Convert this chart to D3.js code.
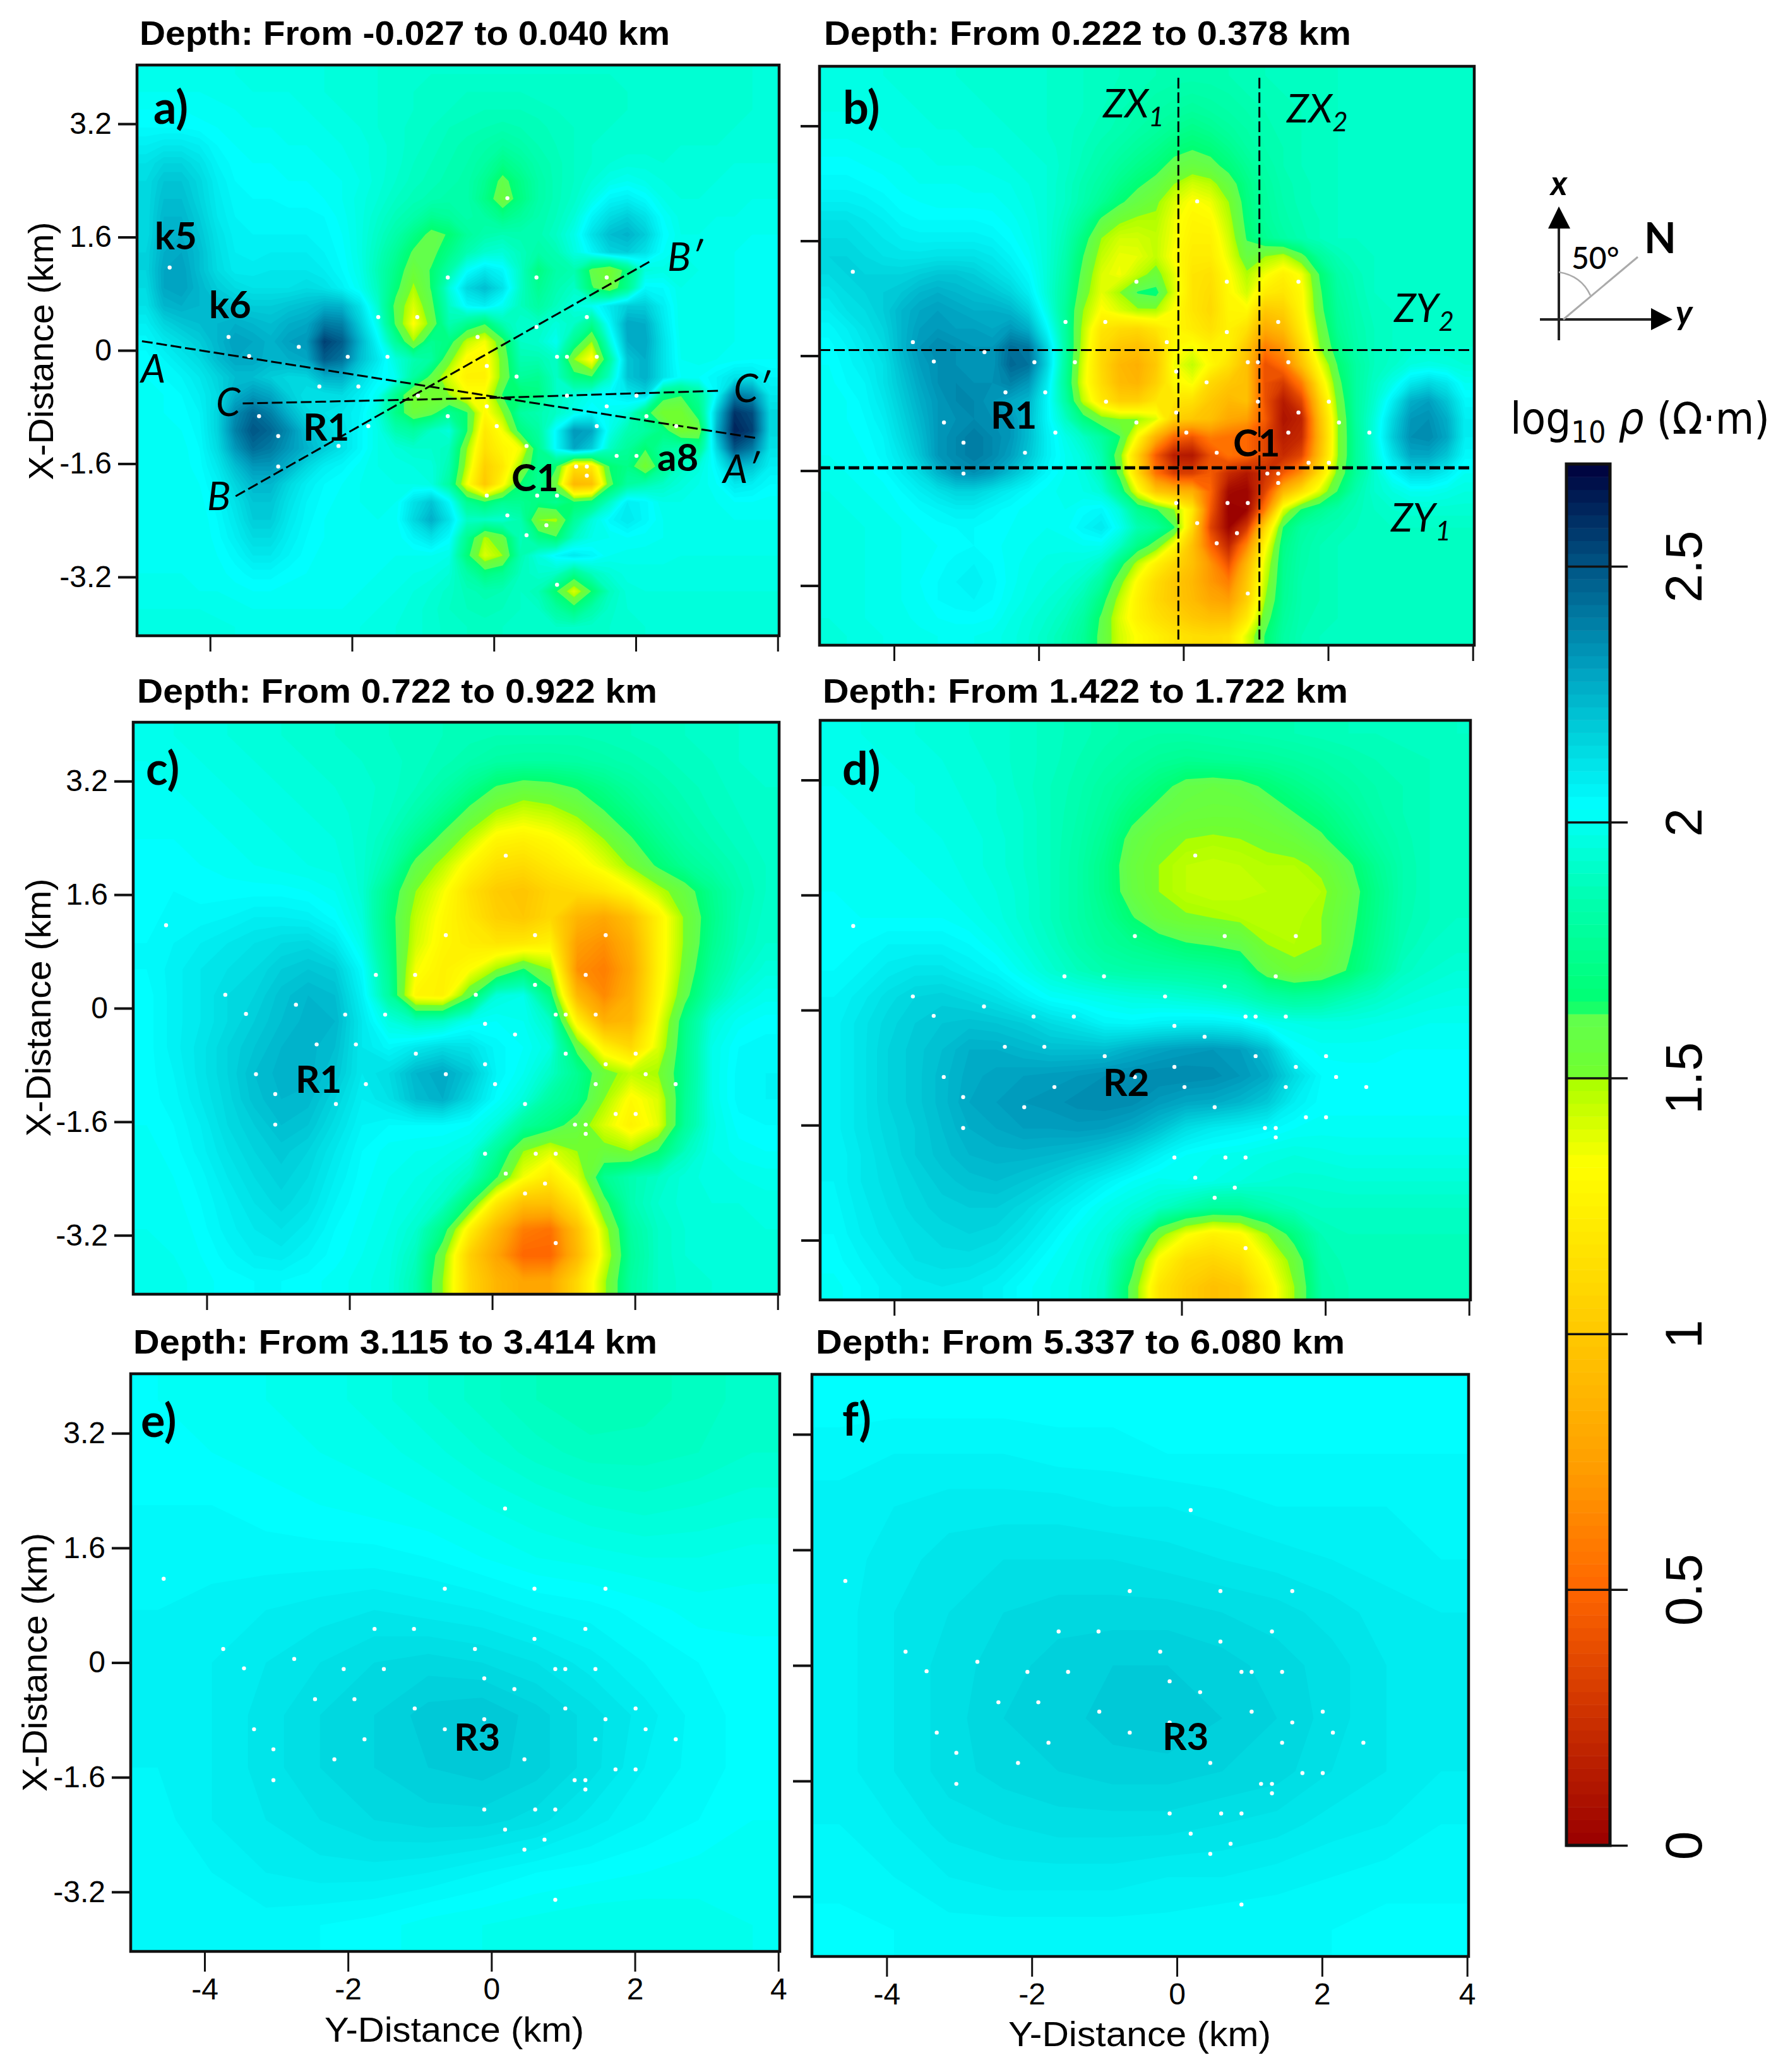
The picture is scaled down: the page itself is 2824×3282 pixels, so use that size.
<!DOCTYPE html>
<html>
<head>
<meta charset="utf-8">
<script src="https://cdn.jsdelivr.net/npm/d3@7"></script>
<style>
body { margin: 0; background: #fff; }
text { font-family: "Liberation Sans", Arial, sans-serif; fill: #000; }
.lab { font-family: Lato, sans-serif; font-weight: 700; font-size: 60px; }
.name { font-family: Lato, sans-serif; font-weight: 700; font-size: 72px; }
.ital { font-family: Lato, sans-serif; font-style: italic; font-size: 62px; }
</style>
</head>
<body>
<div id="plotDiv"></div>
<script>
// log10 resistivity x 100. rows run from +x to -x, columns from -y to +y
var gridA = [
[198,198,198,198,198,198,197,197,197,196,196,195,195,194,193,192,192,192,192,192,192,192,192,192,192,192,192,192,192,192,192,192,193,193,194,194],
[200,200,200,200,199,199,198,198,198,197,196,195,195,194,193,192,191,191,190,190,190,190,191,191,191,191,191,192,192,192,192,192,193,193,194,194],
[202,202,202,201,201,200,199,199,198,198,197,196,195,194,193,192,191,190,189,188,188,188,189,190,191,191,191,192,192,192,192,193,193,193,194,194],
[204,204,204,203,202,201,200,200,199,199,198,197,196,194,193,191,190,188,187,186,185,186,187,189,190,191,192,192,192,192,193,193,193,194,194,195],
[208,210,210,208,204,202,201,201,200,200,199,198,197,195,193,191,189,187,185,183,180,183,186,188,190,192,193,193,193,193,194,194,194,195,195,195],
[212,216,216,212,206,203,202,202,201,201,200,199,197,195,193,190,188,186,184,180,172,178,184,187,190,192,194,195,195,194,194,195,195,196,196,196],
[214,220,220,215,208,204,203,203,202,202,201,200,198,195,192,189,187,185,183,175,160,172,182,187,190,194,198,200,198,196,195,195,196,196,197,197],
[214,222,222,216,209,205,204,204,203,203,202,200,197,194,190,187,185,183,183,172,155,170,182,187,191,198,206,208,204,198,196,196,197,197,198,198],
[214,224,224,218,210,206,205,205,205,205,204,201,197,192,187,183,175,178,183,180,172,178,184,188,194,206,214,218,212,202,197,197,198,198,199,199],
[214,225,226,220,212,207,206,206,206,206,205,202,197,190,183,172,160,165,178,184,186,185,185,190,198,212,222,225,218,204,198,198,199,199,200,200],
[216,226,228,222,213,208,207,208,208,208,206,203,197,188,177,162,160,172,185,192,194,188,182,186,196,206,216,218,212,202,198,198,199,200,200,200],
[216,228,230,222,214,209,209,210,210,210,208,204,198,186,172,155,165,182,202,210,205,190,170,182,185,160,150,170,195,197,197,198,199,200,200,201],
[214,228,230,224,218,214,212,212,212,214,212,207,200,188,168,148,165,195,215,222,212,190,175,185,190,165,155,175,205,204,198,198,199,200,200,201],
[212,224,226,224,222,220,218,218,220,222,226,225,212,192,160,140,160,190,205,208,200,188,180,188,196,200,210,218,218,208,198,198,199,200,200,200],
[208,216,220,222,224,226,224,222,226,228,240,238,218,198,162,132,155,185,175,165,185,192,190,195,190,175,205,228,226,210,198,198,199,200,200,200],
[205,210,214,218,224,230,228,225,230,232,255,248,225,205,178,150,175,170,145,135,160,190,192,200,175,150,195,226,228,212,199,198,199,200,200,200],
[203,206,210,214,222,228,228,224,226,228,248,242,222,210,195,185,180,155,130,128,155,185,185,190,150,130,180,220,226,212,200,199,200,201,202,202],
[202,204,206,210,216,222,222,218,215,216,226,226,214,205,200,180,160,140,125,125,155,178,175,190,170,165,190,220,226,212,202,202,206,212,212,206],
[201,202,204,208,214,226,232,228,218,212,212,214,208,200,175,150,150,150,135,135,165,165,170,190,195,200,205,210,215,170,165,178,205,240,235,210],
[200,202,203,206,216,235,245,238,225,215,212,210,206,195,172,155,160,175,165,130,150,180,185,190,198,205,200,195,170,150,150,170,220,258,252,215],
[200,201,202,205,216,238,250,245,235,222,216,212,205,198,185,180,190,195,165,120,135,170,180,205,232,228,198,185,180,170,150,155,225,262,255,215],
[200,200,201,204,214,232,244,240,232,225,218,212,205,198,195,192,192,188,150,115,128,135,175,205,228,218,190,178,165,180,185,175,215,250,240,212],
[200,200,201,203,210,222,232,232,225,215,208,205,201,198,197,196,195,185,145,105,120,150,175,165,115,120,165,172,150,175,190,195,205,225,220,208],
[200,200,200,202,207,216,224,224,215,208,204,202,200,199,198,198,196,180,135,100,130,165,175,155,90,95,160,180,185,190,195,198,202,210,208,204],
[200,200,200,201,205,212,220,220,212,206,203,201,200,199,200,212,220,205,175,165,175,175,170,175,165,170,190,208,205,198,198,198,200,202,202,201],
[200,200,200,200,204,210,218,218,210,205,202,201,200,200,201,215,226,212,190,190,192,185,150,148,178,195,205,210,205,200,198,198,199,200,200,200],
[200,200,200,200,203,208,214,214,208,204,202,201,200,200,200,206,212,204,175,148,158,188,172,165,190,198,200,202,201,200,199,199,199,199,199,199],
[200,200,200,200,202,205,210,210,206,203,201,200,200,200,200,200,200,198,168,140,150,185,196,205,210,206,200,199,199,199,198,198,198,198,198,198],
[200,200,200,200,201,203,205,205,203,202,201,200,200,200,199,198,197,194,182,170,175,188,192,190,175,188,194,197,197,197,197,197,197,197,197,197],
[199,199,199,200,200,201,202,202,201,201,200,200,200,199,198,196,194,191,187,185,186,190,186,165,140,165,188,195,196,196,196,196,196,196,196,196],
[198,198,198,198,199,199,200,200,200,200,200,200,199,198,197,195,193,190,188,187,188,190,190,180,170,183,191,194,195,195,195,195,195,195,195,195],
[196,196,196,197,197,198,198,199,199,199,199,199,198,197,196,195,193,191,190,189,190,191,191,190,190,191,192,193,194,194,194,194,194,194,194,194]
];
var gridB = [
[197,197,197,196,195,195,194,194,193,193,192,192,192,191,190,189,188,187,186,185,185,185,186,187,188,188,189,189,190,190,190,190,190,190,190,190],
[197,197,197,196,196,195,195,194,194,193,193,192,192,191,190,189,187,186,184,183,182,183,184,186,187,188,188,189,190,190,190,190,190,190,190,190],
[198,198,198,197,196,196,195,195,194,194,193,193,192,191,190,188,186,184,182,180,178,180,182,184,186,187,188,189,190,190,190,190,190,190,190,190],
[199,199,199,198,197,197,196,196,195,195,194,193,192,191,189,187,185,182,179,175,172,175,179,182,185,187,188,189,190,190,190,190,190,190,190,190],
[201,201,200,199,198,198,197,197,196,196,195,194,193,191,188,185,182,178,174,168,165,168,174,180,184,186,188,189,190,190,190,190,190,190,190,190],
[203,203,202,201,200,199,198,198,198,197,196,195,194,191,187,183,178,173,168,160,157,160,168,176,182,186,188,189,190,190,190,190,190,190,190,190],
[205,205,204,203,201,200,200,200,199,199,198,196,194,190,185,180,173,166,160,150,142,146,158,172,180,185,187,189,190,190,190,190,190,190,190,190],
[208,208,207,205,203,202,201,201,201,201,199,197,194,190,184,176,166,158,152,140,132,136,150,170,179,184,187,189,190,190,190,190,190,190,190,190],
[212,212,210,208,205,204,204,204,204,203,201,198,194,188,178,162,152,148,148,136,128,130,146,168,178,183,186,188,190,190,190,190,190,190,190,190],
[214,214,212,210,208,207,207,207,207,206,203,199,194,186,170,150,142,142,145,135,125,125,142,165,175,181,185,188,190,190,190,190,190,190,190,190],
[216,216,214,212,211,211,212,212,212,210,206,201,194,184,164,145,137,138,145,132,122,122,138,158,150,145,160,178,186,189,190,190,190,190,190,190],
[214,216,216,216,216,218,220,220,218,214,210,204,194,182,160,140,135,145,155,138,118,115,132,148,135,125,135,165,182,187,190,190,190,190,190,190],
[211,214,216,218,220,224,226,224,222,220,216,208,194,180,156,138,150,165,168,140,118,112,130,142,122,118,130,162,180,186,190,190,190,190,190,190],
[208,212,214,218,224,228,230,228,226,226,224,216,198,178,150,132,140,148,148,132,118,110,128,130,100,105,128,160,178,185,189,190,190,190,190,190],
[205,208,212,216,224,230,232,230,230,228,232,226,205,180,146,118,112,110,118,128,122,115,125,115,82,92,122,155,176,184,188,190,191,191,191,191],
[203,206,210,214,224,232,236,234,232,232,243,240,215,182,144,112,100,95,105,130,135,125,125,100,60,72,110,150,172,183,188,190,192,192,192,192],
[202,205,208,212,222,230,234,234,232,232,245,242,216,180,140,110,90,85,100,135,145,130,115,95,40,55,95,135,165,180,188,191,196,197,196,194],
[201,204,206,212,220,228,234,236,234,234,238,232,210,178,138,112,92,88,105,130,135,110,100,95,40,30,60,120,160,180,190,198,210,215,210,200],
[200,202,205,210,218,226,232,236,236,232,228,224,206,182,145,120,105,105,118,118,115,100,90,95,40,14,35,105,155,180,192,208,226,230,220,205],
[200,202,204,208,216,224,232,234,236,234,232,222,206,190,170,155,150,150,140,105,100,95,80,75,45,10,18,95,150,180,195,215,232,234,226,208],
[200,201,203,206,214,222,232,236,240,236,232,222,208,198,190,180,165,130,85,50,42,60,55,50,35,15,22,90,150,178,196,218,234,236,228,208],
[200,201,202,205,211,220,232,236,240,236,230,220,208,200,195,185,155,105,45,15,12,40,55,50,35,22,35,95,150,178,194,212,228,228,220,205],
[199,200,201,203,208,214,224,232,234,230,222,214,205,200,197,188,160,110,55,32,32,45,22,12,25,45,70,115,155,178,192,204,214,214,208,200],
[198,199,200,201,204,208,212,216,216,212,208,204,201,199,198,194,175,135,100,90,85,50,5,2,35,90,115,140,165,184,192,196,200,200,198,196],
[197,198,199,200,202,204,206,208,208,205,203,201,200,200,203,205,195,175,165,150,120,45,0,2,60,140,165,175,182,187,190,192,193,193,193,193],
[196,197,198,199,200,202,203,204,204,203,202,201,200,201,206,210,200,185,178,165,110,35,2,30,110,165,180,184,186,188,189,190,190,190,190,190],
[196,197,198,199,200,201,202,203,204,203,201,200,199,199,200,200,190,172,158,130,95,50,20,65,130,172,182,186,188,188,189,189,189,189,189,189],
[196,197,198,199,200,201,203,205,206,204,201,199,197,196,195,190,170,145,125,110,95,70,40,90,140,174,183,186,188,188,188,188,188,188,188,188],
[196,197,198,199,200,202,204,206,207,205,201,198,196,194,190,180,155,130,112,100,90,72,60,100,145,175,184,186,188,188,188,188,188,188,188,188],
[196,197,198,199,200,201,204,205,206,204,200,197,194,191,185,170,145,125,110,100,92,80,75,105,150,176,184,186,188,188,188,188,188,188,188,188],
[196,197,198,199,199,201,202,203,203,202,198,195,192,188,180,162,140,125,115,108,100,95,95,120,158,178,185,187,188,188,188,188,188,188,188,188],
[195,196,197,198,198,199,200,200,200,199,197,194,190,185,177,160,142,132,125,118,114,112,115,140,165,180,186,188,188,188,188,188,188,188,188,188]
];
var gridC = [
[199,198,197,196,195,194,193,192,191,190,189,188,187,186,186,186,186,187,188,189,190,191,192,193],
[200,199,198,197,196,195,194,193,192,191,189,187,184,181,180,180,181,183,185,187,189,190,192,193],
[200,200,199,198,197,196,195,194,193,191,188,183,174,163,158,160,165,172,179,184,187,189,191,192],
[201,201,200,199,198,197,196,195,193,190,184,174,160,148,142,145,152,163,172,180,185,188,190,191],
[202,202,201,200,199,198,197,196,193,187,175,160,145,128,125,130,138,150,163,174,182,186,189,191],
[203,203,202,201,200,199,198,197,193,183,160,146,128,115,112,120,128,138,152,166,176,182,187,190],
[203,204,203,203,203,203,202,200,193,173,150,135,115,102,98,108,112,118,130,145,158,174,185,190],
[203,205,205,206,208,208,207,203,195,170,145,130,118,105,100,110,88,80,95,125,152,172,186,191],
[204,206,208,210,212,214,215,210,198,172,142,128,122,118,120,125,75,68,85,125,152,174,187,192],
[204,207,210,212,214,218,220,218,204,176,135,125,132,150,165,150,68,60,80,125,155,178,190,195],
[203,207,210,214,216,221,224,222,207,180,128,125,160,195,198,170,90,65,85,128,160,184,195,199],
[203,207,210,214,218,222,225,224,210,196,188,190,200,202,200,190,125,85,90,135,172,195,201,203],
[203,207,211,216,220,224,225,222,210,205,210,214,212,205,202,196,160,125,110,140,174,198,204,205],
[203,206,211,216,222,225,225,220,210,214,224,228,220,206,200,190,175,155,145,150,174,198,205,206],
[203,205,210,215,221,224,223,216,208,212,222,226,215,203,195,180,172,150,130,140,176,198,205,206],
[202,204,208,214,218,222,220,213,206,204,204,204,202,195,178,170,158,140,125,138,178,197,203,204],
[201,203,207,212,216,219,216,210,204,201,200,199,196,178,150,140,150,155,150,165,188,198,201,202],
[200,202,205,210,214,217,214,208,203,200,198,195,188,165,135,120,140,175,185,190,195,197,198,199],
[200,201,204,208,212,215,212,206,202,199,196,190,165,120,95,95,120,160,185,192,195,196,196,197],
[200,200,203,207,210,212,209,204,201,198,192,172,125,90,60,55,95,145,180,190,194,195,195,196],
[199,200,202,205,208,209,206,203,200,197,188,155,105,78,50,50,90,140,178,190,194,195,195,195],
[198,199,201,203,204,204,203,201,199,196,185,150,108,88,78,80,110,148,180,190,193,194,194,194]
];
var gridD = [
[198,198,197,196,195,194,193,191,189,187,185,183,182,182,183,184,185,186,187,188,188,189,189,190],
[199,199,198,197,196,195,193,191,189,186,183,180,177,175,176,177,178,180,182,184,186,187,188,189],
[200,199,199,198,197,195,194,191,188,185,180,175,168,160,158,160,166,172,177,181,184,186,188,189],
[200,200,199,198,197,196,194,192,188,184,178,168,160,156,155,155,158,164,170,177,183,186,188,189],
[201,200,200,199,198,197,195,192,188,183,175,160,153,150,149,150,152,155,162,172,180,185,188,189],
[201,201,200,200,199,197,195,192,188,182,172,157,150,146,145,146,148,148,152,162,175,184,188,189],
[202,201,201,200,200,198,196,193,188,182,172,158,150,146,144,145,146,146,148,158,172,184,188,189],
[202,202,202,202,202,200,197,193,188,182,175,165,155,151,150,148,146,147,150,160,173,185,188,190],
[203,204,206,206,206,204,200,195,190,184,178,174,170,165,163,160,150,148,150,162,175,186,190,191],
[204,206,209,211,211,208,205,199,193,188,184,182,181,180,178,175,158,152,155,165,178,189,192,194],
[206,209,213,216,217,215,212,207,202,200,198,196,195,193,191,188,182,178,180,186,190,194,196,197],
[207,211,215,218,220,221,220,218,214,211,206,205,207,208,208,206,200,198,197,197,198,199,200,200],
[207,211,216,219,222,226,226,224,222,222,222,226,229,231,232,230,222,204,201,201,201,202,202,202],
[207,211,216,219,223,227,229,230,231,232,234,235,236,236,235,232,227,214,204,203,203,203,203,203],
[207,211,216,219,223,228,230,232,233,235,236,235,231,228,227,224,219,208,203,203,203,203,203,203],
[207,211,215,218,222,226,228,230,230,231,230,227,221,213,209,207,205,202,201,201,201,201,201,201],
[206,210,214,218,221,224,225,225,224,222,219,214,207,202,200,199,197,196,197,198,198,198,198,198],
[206,210,213,216,219,221,222,220,217,212,207,202,199,200,198,196,194,193,193,194,194,194,194,194],
[205,209,212,215,217,218,218,215,210,205,199,195,190,184,178,178,184,188,190,190,190,190,190,190],
[204,208,211,213,215,216,215,211,206,200,195,185,155,135,125,130,150,170,186,188,188,188,188,188],
[203,206,209,212,213,213,211,207,202,198,192,170,130,112,108,115,135,155,184,187,187,187,187,187],
[201,204,207,209,210,209,207,203,200,197,190,160,118,104,95,100,125,150,182,186,186,186,186,186]
];
var gridE = [
[202,201,200,199,197,194,191,188,186,187,189,191],
[203,202,201,200,199,197,194,191,189,189,190,192],
[204,204,203,202,201,200,198,196,194,193,194,195],
[205,205,205,205,205,204,202,200,199,198,198,199],
[206,207,208,209,210,209,208,206,205,203,201,201],
[206,208,210,212,214,215,214,212,209,206,204,203],
[206,208,211,214,216,219,220,217,213,209,205,203],
[206,208,211,214,216,218,219,217,213,208,205,203],
[205,208,210,212,214,215,215,213,209,206,204,202],
[204,206,208,209,209,208,206,204,203,202,201,201],
[204,205,205,204,203,201,200,199,198,198,199,200]
];
var gridF = [
[203,203,203,203,203,203,203,203,203,203,203,203],
[205,206,206,206,205,205,204,204,204,204,204,204],
[207,208,209,209,209,208,208,207,206,206,206,205],
[207,209,211,212,212,212,211,210,209,208,207,206],
[207,210,212,214,215,215,215,214,213,211,209,208],
[207,210,213,215,217,218,218,217,215,213,210,208],
[207,210,213,216,217,219,220,218,216,213,210,208],
[207,210,213,215,216,217,217,216,215,212,210,208],
[206,208,211,212,213,213,213,212,211,209,208,206],
[205,206,208,209,209,209,208,208,207,206,205,205],
[203,204,205,205,205,205,205,204,204,204,203,203]
];

// stations, km
var stationY = [-4.57,-3.74,-3.45,-2.75,-2.06,-1.63,-1.5,-1.08,-.65,-.23,-.1,.19,.6,.6,.89,1.03,1.45,1.31,1.59,.32,-2.46,-1.91,-1.07,-3.31,-3.04,-2.19,-3.04,-1.77,-.65,-.1,.04,1.03,1.59,1.45,2.01,2.15,2.57,.46,1.73,2.01,1.16,1.31,1.31,.89,.61,-.1,.19,.74,.46,.89];
var stationX = [1.17,.19,-.08,.05,-.09,.47,-.09,.47,1.03,.19,-.22,2.15,1.03,.33,-.09,-.09,-.09,.47,1.03,-.37,-.51,-.51,-.64,-.93,-1.21,-1.35,-1.64,-1.07,-.93,-.79,-1.07,-.64,-.79,-1.07,-.64,-.93,-1.07,-1.35,-1.49,-1.49,-1.64,-1.64,-1.77,-2.05,-2.05,-2.05,-2.33,-2.47,-2.61,-3.31];

var yTicks = [-4,-2,0,2,4];
var xTicks = [3.2,1.6,0,-1.6,-3.2];
var barTicks = [2.5,2,1.5,1,0.5,0];
var yRange = [-5.03,4.02];
var xRange = [4.03,-4.03];

// colour stops of the bar
var colorVals = [0,.25,.5,.75,1,1.33,1.5,1.51,1.63,1.64,1.85,2.03,2.15,2.3,2.5,2.7];
var colorHex = ["#990000","#cc3000","#ff6600","#ffa000","#ffc800","#ffff00","#a8ff00","#70ff30","#60ff50","#00ff70","#00ffb0","#00ffff","#00d8e0","#00a0c0","#005585","#00003c"];

var sectionA = [[-4.96,.13],[3.71,-1.24]];
var sectionB = [[-3.64,-2.06],[2.19,1.25]];
var sectionC = [[-3.54,-.75],[0,-.67],[3.18,-.57]];
var zx1 = [[-.07,3.87],[-.07,-3.95]];
var zx2 = [[1.05,3.87],[1.05,-3.95]];
var zy2 = [[-5.03,.08],[4.02,.08]];
var zy1 = [[-5.03,-1.56],[4.02,-1.56]];

var panels = [
  {name:"a)", grid:gridA, title:"Depth: From -0.027 to 0.040 km", box:[217,103,1234,1007], t:[221,71,840], nameAt:[243,196], yLab:true, xLab:false, ylabAt:[84,556,409]},
  {name:"b)", grid:gridB, title:"Depth: From 0.222 to 0.378 km", box:[1298,105,2335,1022], t:[1305,71,835], nameAt:[1335,196], yLab:false, xLab:false},
  {name:"c)", grid:gridC, title:"Depth: From 0.722 to 0.922 km", box:[211,1144,1234,2050], t:[217,1113,824], nameAt:[231,1243], yLab:true, xLab:false, ylabAt:[80,1596,409]},
  {name:"d)", grid:gridD, title:"Depth: From 1.422 to 1.722 km", box:[1299,1141,2329,2059], t:[1303,1113,832], nameAt:[1334,1243], yLab:false, xLab:false},
  {name:"e)", grid:gridE, title:"Depth: From 3.115 to 3.414 km", box:[207,2176,1235,3091], t:[211,2144,830], nameAt:[223,2276], yLab:true, xLab:true, ylabAt:[74,2633,410], xlabAt:[514,3234,411]},
  {name:"f)", grid:gridF, title:"Depth: From 5.337 to 6.080 km", box:[1286,2177,2326,3099], t:[1292,2144,838], nameAt:[1334,2274], yLab:false, xLab:true, xlabAt:[1597,3241,416]}
];

var notes = [
  ["k5",245,395,"lab"],["k6",331,504,"lab"],["R1",480,698,"lab"],["C1",810,778,"lab"],["a8",1041,746,"lab"],
  ["A",223,606,"ital"],["C",342,659,"ital"],["B",328,808,"ital"],["B\u2032",1057,429,"ital"],["C\u2032",1162,637,"ital"],["A\u2032",1145,765,"ital"],
  ["R1",1569,679,"lab"],["C1",1953,723,"lab"],
  ["R1",468,1731,"lab"],["R2",1747,1736,"lab"],["R3",719,2773,"lab"],["R3",1841,2772,"lab"]
];
var subNotes = [["ZX","1",1747,186],["ZX","2",2038,194],["ZY","2",2208,510],["ZY","1",2203,842]];

var svg = d3.select("#plotDiv").append("svg")
    .attr("width", 2824)
    .attr("height", 3282)
    .style("display", "block");

var color = d3.scaleLinear().domain(colorVals).range(colorHex).clamp(true);
var levels = d3.range(-0.02, 2.7, 0.02);
var barLevels = d3.range(0, 2.7, 0.025);

// repeat the edge cells so the contours do not cut the corners of the frame
function padGrid(grid) {
    var rows = grid.map(function(r) { return [r[0]].concat(r, [r[r.length - 1]]); });
    return [rows[0]].concat(rows, [rows[rows.length - 1]]);
}

function drawPanel(p, idx) {
    var b = p.box;
    var g = svg.append("g");
    var rows = p.grid.length, cols = p.grid[0].length;
    var yScale = d3.scaleLinear().domain(yRange).range([b[0], b[2]]);
    var xScale = d3.scaleLinear().domain(xRange).range([b[1], b[3]]);
    var colScale = d3.scaleLinear().domain([1, cols + 1]).range([b[0], b[2]]);
    var rowScale = d3.scaleLinear().domain([1, rows + 1]).range([b[1], b[3]]);

    var path = d3.geoPath(d3.geoTransform({
        point: function(x, y) { this.stream.point(colScale(x), rowScale(y)); }
    }));
    var contours = d3.contours()
        .size([cols + 2, rows + 2])
        .thresholds(levels.map(function(v) { return v * 100; }))(padGrid(p.grid).flat());

    g.append("clipPath").attr("id", "clip" + idx)
        .append("rect")
        .attr("x", b[0]).attr("y", b[1])
        .attr("width", b[2] - b[0]).attr("height", b[3] - b[1]);

    g.append("g").attr("clip-path", "url(#clip" + idx + ")")
        .selectAll("path")
        .data(contours)
        .enter().append("path")
        .attr("d", path)
        .attr("fill", function(d) { return color(d.value / 100 + 0.01); });

    if (p.lines) p.lines(g, yScale, xScale);

    g.append("g").selectAll("circle")
        .data(stationY)
        .enter().append("circle")
        .attr("cx", function(d) { return yScale(d); })
        .attr("cy", function(d, i) { return xScale(stationX[i]); })
        .attr("r", 3.2)
        .attr("fill", "#fff");

    g.append("rect")
        .attr("x", b[0]).attr("y", b[1])
        .attr("width", b[2] - b[0]).attr("height", b[3] - b[1])
        .attr("fill", "none")
        .attr("stroke", "#111")
        .attr("stroke-width", 4.5);

    var axisL = d3.axisLeft(xScale).tickValues(xTicks).tickSize(30).tickPadding(10)
        .tickFormat(function(d) { return String(d); });
    var axisB = d3.axisBottom(yScale).tickValues(yTicks).tickSize(p.xLab ? 32 : 25).tickPadding(10)
        .tickFormat(function(d) { return String(d); });

    var ga = g.append("g").attr("transform", "translate(" + b[0] + ",0)").call(axisL);
    var gb = g.append("g").attr("transform", "translate(0," + b[3] + ")").call(axisB);
    ga.select(".domain").remove();
    gb.select(".domain").remove();
    ga.selectAll("line").attr("stroke", "#111").attr("stroke-width", 4);
    gb.selectAll("line").attr("stroke", "#111").attr("stroke-width", 3);
    ga.selectAll("text").attr("font-size", 48);
    gb.selectAll("text").attr("font-size", 48);
    if (!p.yLab) ga.selectAll("text").remove();
    if (!p.xLab) gb.selectAll("text").remove();

    svg.append("text")
        .attr("x", p.t[0]).attr("y", p.t[1])
        .attr("textLength", p.t[2]).attr("lengthAdjust", "spacingAndGlyphs")
        .attr("font-size", 54).attr("font-weight", 700)
        .text(p.title);

    svg.append("text").attr("class", "name")
        .attr("x", p.nameAt[0]).attr("y", p.nameAt[1])
        .text(p.name);

    if (p.yLab) {
        svg.append("text")
            .attr("transform", "translate(" + p.ylabAt[0] + "," + p.ylabAt[1] + ") rotate(-90)")
            .attr("text-anchor", "middle")
            .attr("textLength", p.ylabAt[2]).attr("lengthAdjust", "spacingAndGlyphs")
            .attr("font-size", 56)
            .text("X-Distance (km)");
    }
    if (p.xLab) {
        svg.append("text")
            .attr("x", p.xlabAt[0]).attr("y", p.xlabAt[1])
            .attr("textLength", p.xlabAt[2]).attr("lengthAdjust", "spacingAndGlyphs")
            .attr("font-size", 56)
            .text("Y-Distance (km)");
    }
}

function dashed(g, y, x, pts, w) {
    var line = d3.line()
        .x(function(d) { return y(d[0]); })
        .y(function(d) { return x(d[1]); });
    g.append("path")
        .attr("d", line(pts))
        .attr("fill", "none")
        .attr("stroke", "#000")
        .attr("stroke-width", w)
        .attr("stroke-dasharray", "17,6");
}

panels[0].lines = function(g, y, x) {
    dashed(g, y, x, sectionA, 3);
    dashed(g, y, x, sectionB, 3);
    dashed(g, y, x, sectionC, 3);
};
panels[1].lines = function(g, y, x) {
    dashed(g, y, x, zx1, 3);
    dashed(g, y, x, zx2, 3);
    dashed(g, y, x, zy2, 3);
    dashed(g, y, x, zy1, 5);
};

panels.forEach(drawPanel);

svg.append("g").selectAll("text")
    .data(notes)
    .enter().append("text")
    .attr("class", function(d) { return d[3]; })
    .attr("x", function(d) { return d[1]; })
    .attr("y", function(d) { return d[2]; })
    .text(function(d) { return d[0]; });

subNotes.forEach(function(d) {
    var t = svg.append("text").attr("class", "ital").attr("x", d[2]).attr("y", d[3]);
    t.append("tspan").text(d[0]);
    t.append("tspan").attr("dy", 14).attr("font-size", 42).text(d[1]);
});

// colour bar
var barY = d3.scaleLinear().domain([0, 2.7]).range([2923, 735]);
var bar = svg.append("g");
bar.selectAll("rect")
    .data(barLevels)
    .enter().append("rect")
    .attr("x", 2481)
    .attr("y", function(d) { return barY(d + 0.025); })
    .attr("width", 69)
    .attr("height", function(d) { return barY(d) - barY(d + 0.025) + 0.5; })
    .attr("fill", function(d) { return color(d + 0.0125); });
bar.append("rect")
    .attr("x", 2481).attr("y", 735).attr("width", 69).attr("height", 2188)
    .attr("fill", "none").attr("stroke", "#111").attr("stroke-width", 5);

var barAxis = svg.append("g").attr("transform", "translate(2481,0)")
    .call(d3.axisRight(barY).tickValues(barTicks).tickSize(97)
        .tickFormat(function(d) { return String(d); }));
barAxis.select(".domain").remove();
barAxis.selectAll("line").attr("stroke", "#111").attr("stroke-width", 3.5);
barAxis.selectAll("text")
    .attr("x", 0).attr("dy", 0)
    .attr("transform", "translate(214,0) rotate(-90)")
    .attr("text-anchor", "middle")
    .attr("font-size", 82);

var barTitle = svg.append("text")
    .attr("x", 2392).attr("y", 687)
    .attr("textLength", 411).attr("lengthAdjust", "spacingAndGlyphs")
    .style("font-family", "'DejaVu Sans'")
    .attr("font-size", 70);
barTitle.append("tspan").text("log");
barTitle.append("tspan").attr("dy", 14).attr("font-size", 48).text("10");
barTitle.append("tspan").attr("dy", -14).attr("font-style", "italic").text(" \u03c1 ");
barTitle.append("tspan").text("(\u03a9\u00b7m)");

// compass
var comp = svg.append("g");
function seg(x1, y1, x2, y2, c, w) {
    comp.append("line").attr("x1", x1).attr("y1", y1).attr("x2", x2).attr("y2", y2)
        .attr("stroke", c).attr("stroke-width", w);
}
seg(2469, 360, 2469, 539, "#222", 4);
seg(2439, 506, 2618, 506, "#222", 4);
seg(2476, 506, 2594, 407, "#aaa", 3);
comp.append("path").attr("d", "M2469,327L2487,362L2452,362Z");
comp.append("path").attr("d", "M2649,506L2615,488L2615,523Z");
comp.append("path").attr("d", "M2469,431Q2505,437 2519,468")
    .attr("fill", "none").attr("stroke", "#aaa").attr("stroke-width", 2.5);
comp.append("text").attr("class", "lab").attr("x", 2456).attr("y", 309).attr("font-style", "italic").style("font-size", "54px").text("x");
comp.append("text").attr("class", "lab").attr("x", 2654).attr("y", 514).attr("font-style", "italic").style("font-size", "54px").text("y");
comp.append("text").attr("class", "lab").attr("x", 2604).attr("y", 401).style("font-size", "66px").text("N");
comp.append("text").style("font-family", "Lato").attr("font-weight", 500).attr("x", 2489).attr("y", 426).attr("font-size", 48).text("50\u00b0");
</script>
</body>
</html>
